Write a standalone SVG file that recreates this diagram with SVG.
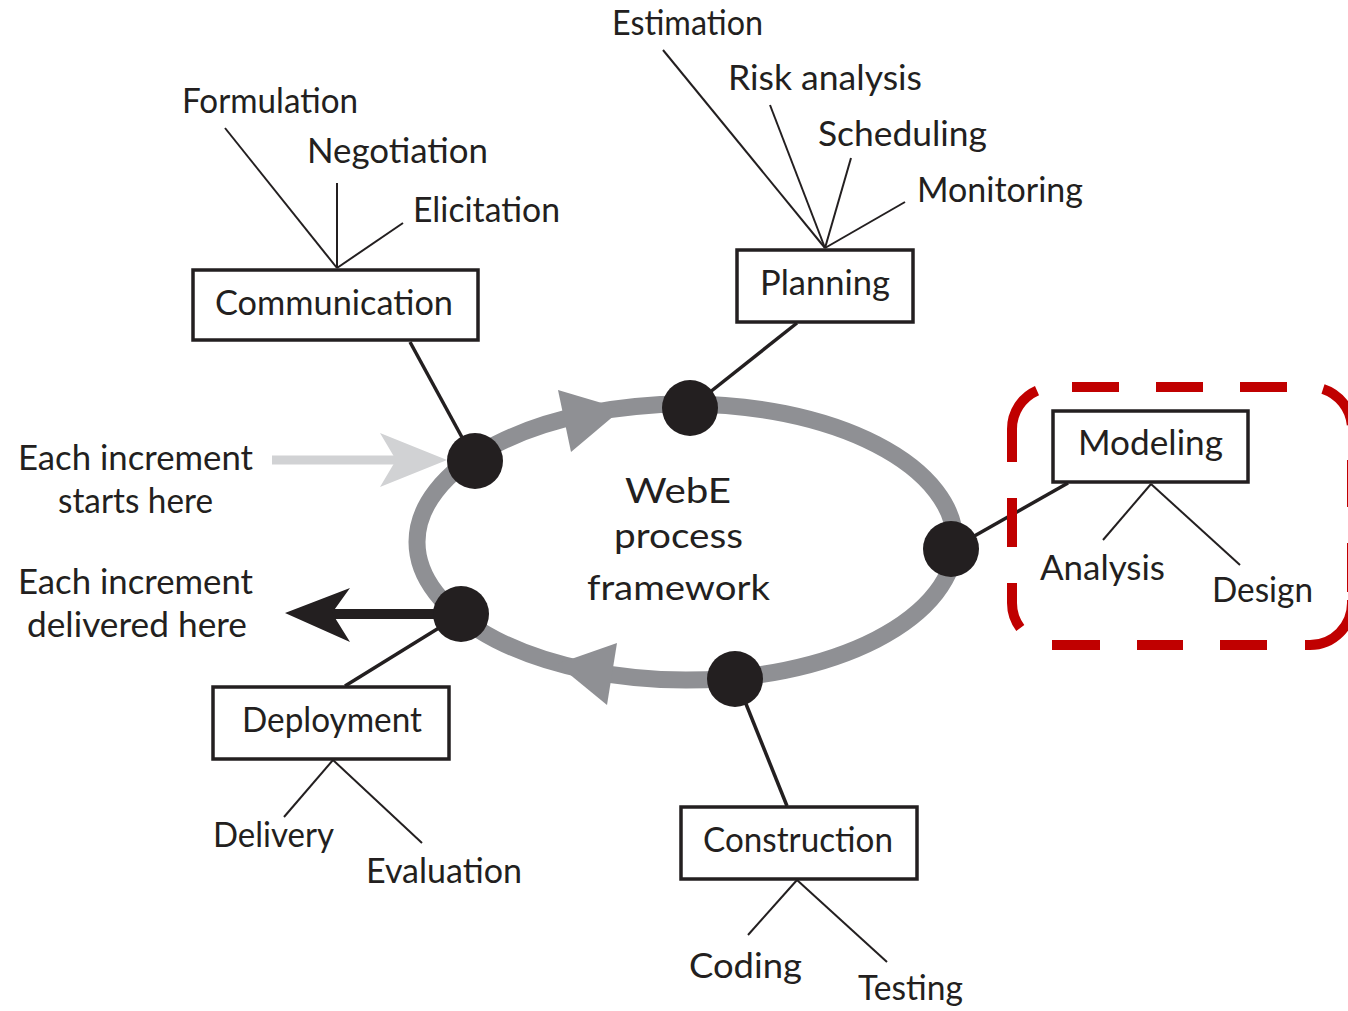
<svg xmlns="http://www.w3.org/2000/svg" width="1348" height="1011" viewBox="0 0 1348 1011">
<style>
  text { font-family: Lato, "Liberation Sans", sans-serif; font-size: 34px; fill: #231f20; }
  .box { fill: #ffffff; stroke: #231f20; stroke-width: 3.5; }
  .link { stroke: #231f20; stroke-width: 3.5; fill: none; }
  .sub { stroke: #231f20; stroke-width: 2; fill: none; }
  .dot { fill: #231f20; }
  .highlight { fill: none; stroke: #c00000; stroke-width: 10; }
</style>
<rect width="1348" height="1011" fill="#ffffff"/>

<g id="cycle">
  <ellipse cx="686" cy="542" rx="269" ry="138" fill="none" stroke="#8f9094" stroke-width="17"/>
  <polygon points="558,390 622,409 571,452" fill="#8f9094"/>
  <polygon points="617,643 557,664 607,705" fill="#8f9094"/>
  <text x="625" y="503" textLength="106" lengthAdjust="spacingAndGlyphs" font-size="36">WebE</text>
  <text x="614" y="548" textLength="129" lengthAdjust="spacingAndGlyphs" font-size="36">process</text>
  <text x="587" y="600" textLength="183" lengthAdjust="spacingAndGlyphs" font-size="36">framework</text>
</g>

<g id="connectors">
  <line class="link" x1="410" y1="342" x2="470" y2="452"/>
  <line class="link" x1="797" y1="323" x2="695" y2="404"/>
  <line class="link" x1="1068" y1="483" x2="955" y2="547"/>
  <line class="link" x1="787" y1="806" x2="738" y2="684"/>
  <line class="link" x1="345" y1="686" x2="455" y2="618"/>
  <line class="sub" x1="225" y1="128" x2="337" y2="268"/>
  <line class="sub" x1="337" y1="183" x2="337" y2="268"/>
  <line class="sub" x1="403" y1="223" x2="337" y2="268"/>
  <line class="sub" x1="663" y1="50" x2="825" y2="248"/>
  <line class="sub" x1="770" y1="105" x2="825" y2="248"/>
  <line class="sub" x1="851" y1="158" x2="825" y2="248"/>
  <line class="sub" x1="905" y1="202" x2="825" y2="248"/>
  <line class="sub" x1="1151" y1="484" x2="1103" y2="540"/>
  <line class="sub" x1="1151" y1="484" x2="1240" y2="565"/>
  <line class="sub" x1="333" y1="760" x2="284" y2="817"/>
  <line class="sub" x1="333" y1="760" x2="422" y2="843"/>
  <line class="sub" x1="797" y1="880" x2="748" y2="935"/>
  <line class="sub" x1="797" y1="880" x2="887" y2="962"/>
  <line x1="272" y1="460" x2="398" y2="460" stroke="#d1d2d4" stroke-width="9"/>
  <polygon points="380,433 447,460 380,487 396,460" fill="#d1d2d4"/>
  <line x1="330" y1="614" x2="461" y2="614" stroke="#231f20" stroke-width="10"/>
  <polygon points="285,613 350,588 332,613 350,642" fill="#231f20"/>
</g>

<g id="nodes-dots">
  <circle class="dot" cx="475" cy="461" r="28"/>
  <circle class="dot" cx="690" cy="408" r="28"/>
  <circle class="dot" cx="951" cy="549" r="28"/>
  <circle class="dot" cx="735" cy="679" r="28"/>
  <circle class="dot" cx="461" cy="614" r="28"/>
</g>

<g id="communication">
  <rect class="box" x="193" y="270" width="285" height="70"/>
  <text x="215" y="315" textLength="238" lengthAdjust="spacingAndGlyphs">Communication</text>
  <text x="182" y="113" textLength="176" lengthAdjust="spacingAndGlyphs">Formulation</text>
  <text x="307" y="163" textLength="181" lengthAdjust="spacingAndGlyphs">Negotiation</text>
  <text x="413" y="222" textLength="147" lengthAdjust="spacingAndGlyphs">Elicitation</text>
</g>

<g id="planning">
  <rect class="box" x="737" y="250" width="176" height="72"/>
  <text x="760" y="295" textLength="130" lengthAdjust="spacingAndGlyphs">Planning</text>
  <text x="612" y="35" textLength="151" lengthAdjust="spacingAndGlyphs">Estimation</text>
  <text x="728" y="90" textLength="194" lengthAdjust="spacingAndGlyphs">Risk analysis</text>
  <text x="818" y="146" textLength="169" lengthAdjust="spacingAndGlyphs">Scheduling</text>
  <text x="917" y="202" textLength="166" lengthAdjust="spacingAndGlyphs">Monitoring</text>
</g>

<g id="modeling">
  <path class="highlight" d="M1012,462 L1012,429 A42,42 0 0 1 1037,390.6
    M1072,387 L1119,387 M1156,387 L1203,387 M1240,387 L1287,387
    M1323,389 A42,42 0 0 1 1351.8,425
    M1352,460 L1352,507 M1352,543 L1352,592
    M1352,600 L1352,603 A42,42 0 0 1 1310,645 L1305,645
    M1267,645 L1220,645 M1183,645 L1137,645 M1100,645 L1052,645
    M1020.3,628 A42,42 0 0 1 1012,603 L1012,583
    M1012,547 L1012,498"/>
  <rect class="box" x="1053" y="411" width="195" height="71"/>
  <text x="1078" y="455" textLength="145" lengthAdjust="spacingAndGlyphs">Modeling</text>
  <text x="1040" y="580" textLength="125" lengthAdjust="spacingAndGlyphs">Analysis</text>
  <text x="1212" y="602" textLength="101" lengthAdjust="spacingAndGlyphs">Design</text>
</g>

<g id="construction">
  <rect class="box" x="681" y="807" width="236" height="72"/>
  <text x="703" y="852" textLength="190" lengthAdjust="spacingAndGlyphs">Construction</text>
  <text x="689" y="978" textLength="113" lengthAdjust="spacingAndGlyphs">Coding</text>
  <text x="858" y="1000" textLength="105" lengthAdjust="spacingAndGlyphs">Testing</text>
</g>

<g id="deployment">
  <rect class="box" x="213" y="687" width="236" height="72"/>
  <text x="242" y="732" textLength="180" lengthAdjust="spacingAndGlyphs">Deployment</text>
  <text x="213" y="847" textLength="121" lengthAdjust="spacingAndGlyphs">Delivery</text>
  <text x="366" y="883" textLength="156" lengthAdjust="spacingAndGlyphs">Evaluation</text>
</g>

<g id="increment-labels">
  <text x="18" y="470" textLength="235" lengthAdjust="spacingAndGlyphs">Each increment</text>
  <text x="58" y="513" textLength="155" lengthAdjust="spacingAndGlyphs">starts here</text>
  <text x="18" y="594" textLength="235" lengthAdjust="spacingAndGlyphs">Each increment</text>
  <text x="27" y="637" textLength="220" lengthAdjust="spacingAndGlyphs">delivered here</text>
</g>
</svg>
